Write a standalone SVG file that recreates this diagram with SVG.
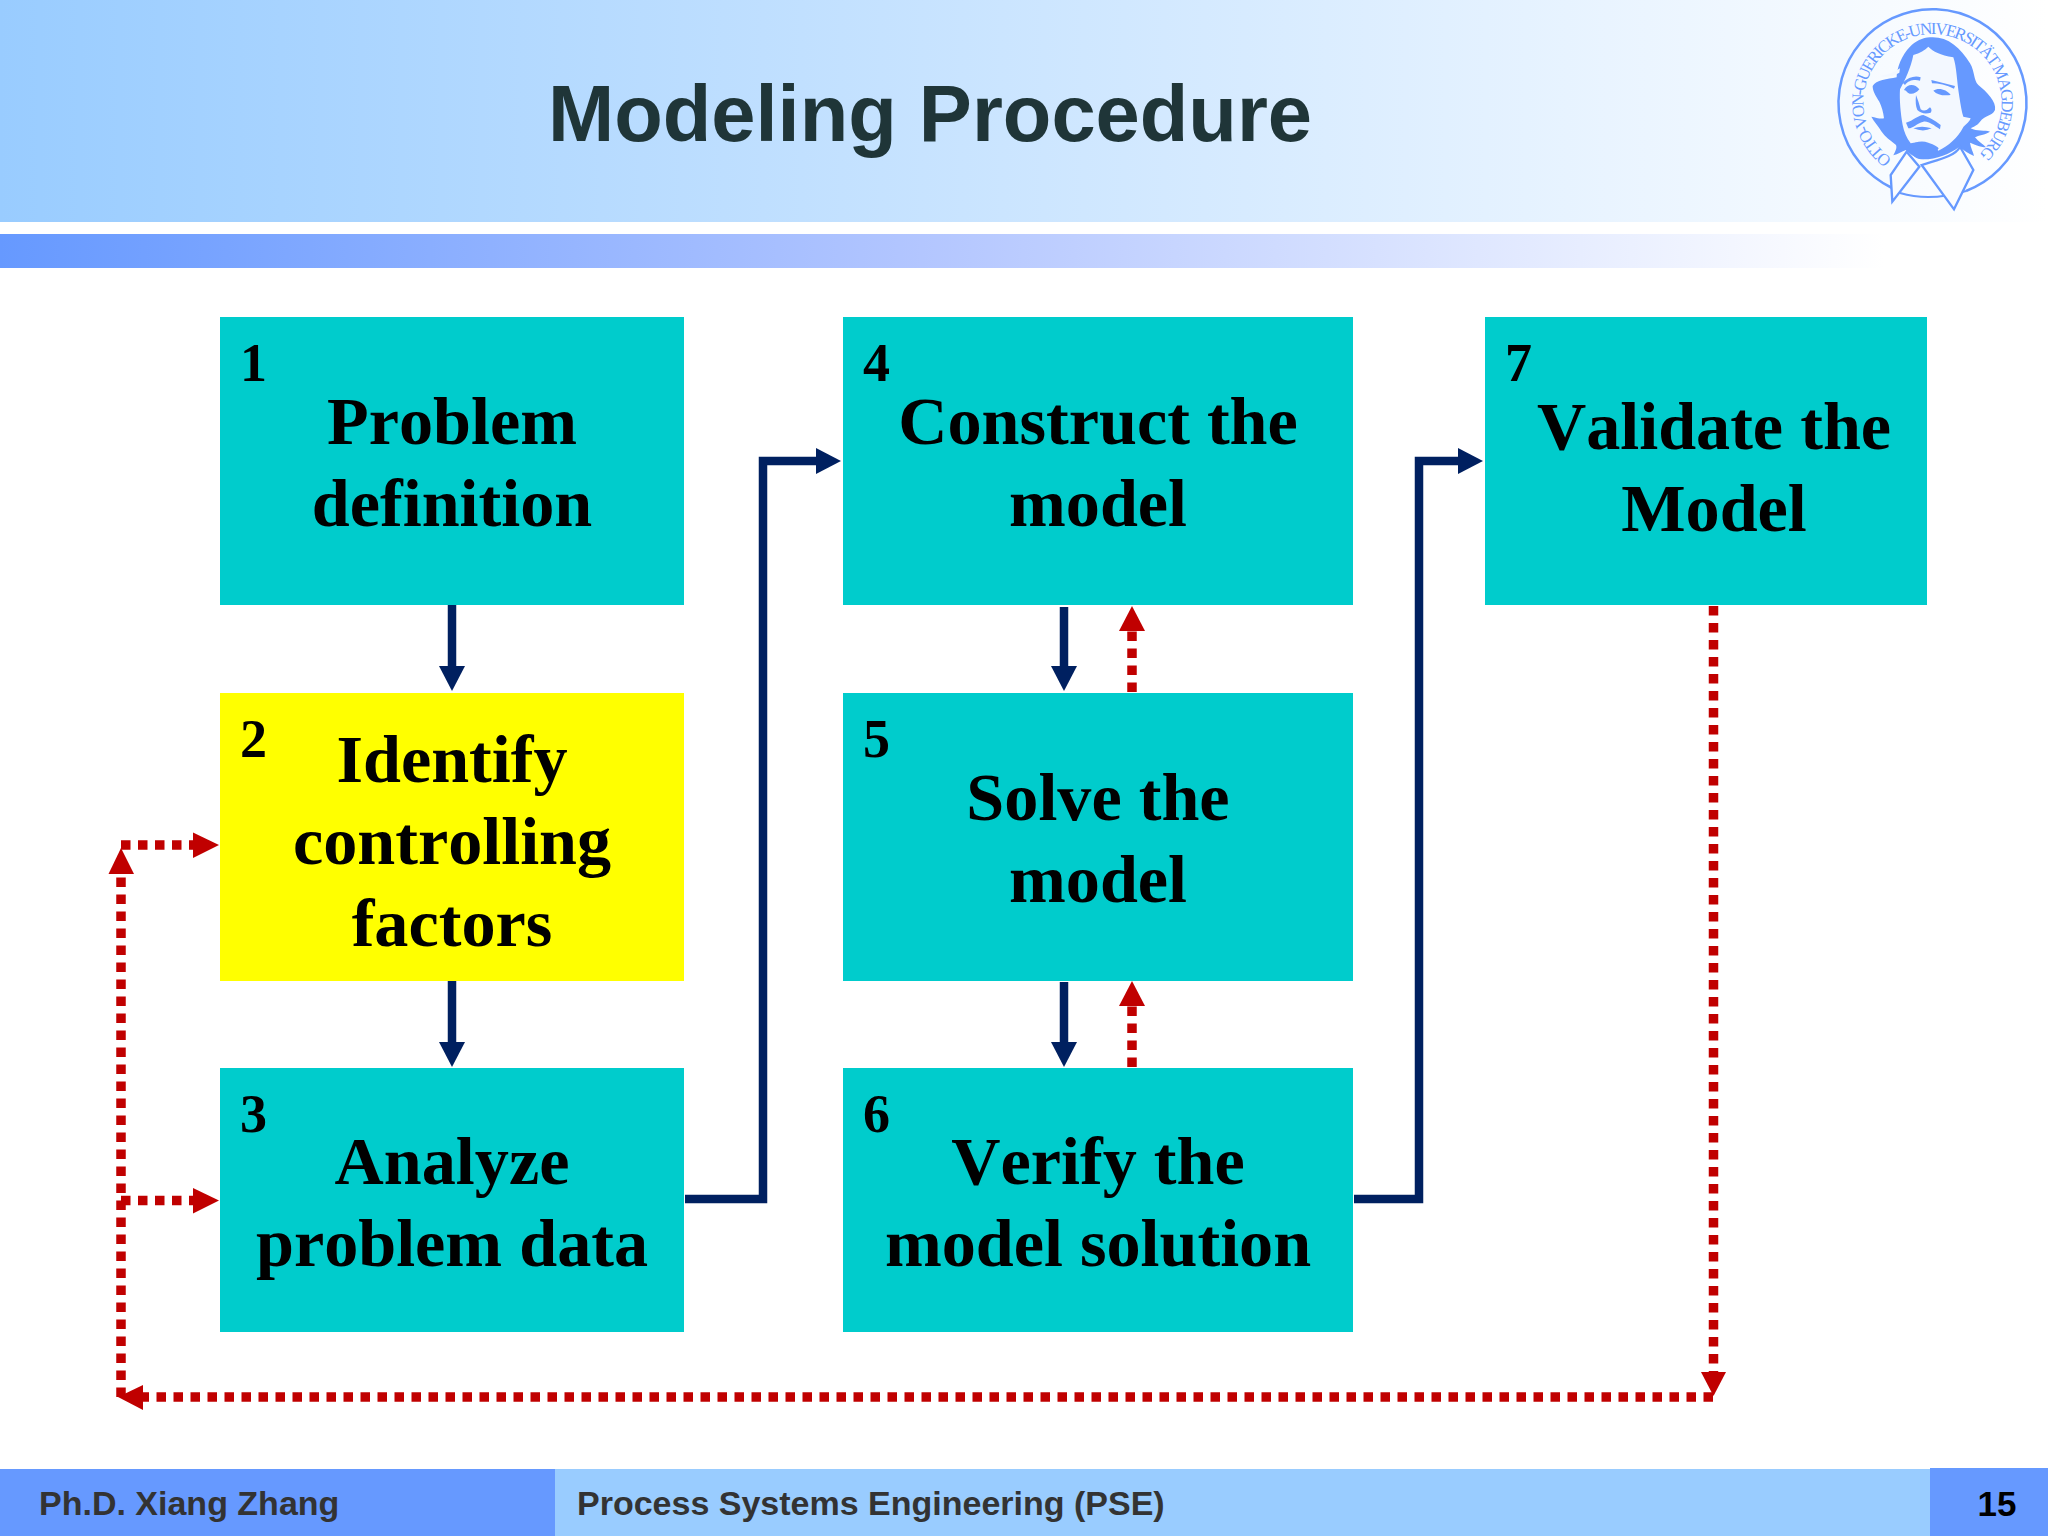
<svg xmlns="http://www.w3.org/2000/svg" xmlns:xlink="http://www.w3.org/1999/xlink" width="2048" height="1536" viewBox="0 0 2048 1536">
<style>
.box{fill:#00cccc}
.lbl{font:bold 68.200px "Liberation Serif",serif;fill:#000;text-anchor:middle;font-kerning:none}
.num{font:bold 54px "Liberation Serif",serif;fill:#000}
.foot{font:bold 34px "Liberation Sans",sans-serif;fill:#333}
.blue{fill:none;stroke:#002060;stroke-width:8.5}
.red{fill:none;stroke:#c00000;stroke-width:9.500;stroke-dasharray:9.500 7.500}
.ha{fill:#c00000}
.hb{fill:#002060}
.logo{fill:#6699ff}
.seal{font:17px "Liberation Serif",serif;fill:#6699ff;letter-spacing:-1.900px}
</style>
<defs>
<linearGradient id="g1"><stop offset="0" stop-color="#99ccff"/><stop offset="1" stop-color="#ffffff"/></linearGradient>
<linearGradient id="g2"><stop offset="0" stop-color="#6699ff"/><stop offset=".45" stop-color="#b3c6ff"/><stop offset=".92" stop-color="#ffffff"/></linearGradient>
<path id="arc" d="M1892 159A69 69 0 1 1 1973 159" fill="none"/>
</defs>
<rect width="2048" height="1536" fill="#fff"/>
<g id="header">
<rect width="2048" height="222" fill="url(#g1)"/>
<rect y="234" width="2048" height="34" fill="url(#g2)"/>
<text x="930" y="140.500" text-anchor="middle" style="font:bold 79.500px 'Liberation Sans',sans-serif;fill:#1f3538">Modeling Procedure</text>
</g>
<g id="logo">
<path d="M1892 188A94 94 0 1 1 1966 191" fill="none" stroke="#6699ff" stroke-width="2.500"/>
<path d="M1900 193Q1930 202 1966 191" fill="none" stroke="#6699ff" stroke-width="2"/>
<text class="seal"><textPath href="#arc" xlink:href="#arc">OTTO-VON-GUERICKE-UNIVERSITÄT MAGDEBURG</textPath></text>
<g transform="translate(1800 0) scale(.33333)">
<path class="logo" d="M390 112C440 108 480 140 510 190C525 215 520 240 535 255C560 275 590 305 585 330C575 350 555 345 540 365C530 378 520 380 512 385C530 395 555 390 570 395C555 405 535 405 525 412C535 425 550 432 558 442C540 442 520 432 510 428C512 445 520 455 522 468C505 460 490 450 478 440C450 462 410 478 370 478C345 475 330 462 318 450C305 455 295 462 280 466C285 455 292 445 288 435C270 420 255 410 245 395C235 378 222 365 214 350C228 352 240 358 252 355C250 335 245 320 238 305C225 285 218 272 218 258C228 240 262 238 290 232C290 205 305 165 330 140C345 125 368 112 390 112Z"/>
<path d="M240 228Q270 225 300 205L298 218Q270 235 240 228Z" fill="#f3f8ff"/>
<path d="M340 165C360 160 375 150 385 140C400 155 420 165 460 172C470 200 470 240 478 290C482 315 485 335 490 350L512 355C505 372 495 372 488 385C475 410 445 440 415 452C400 432 370 420 332 430C320 415 312 395 308 375C302 340 298 300 300 268C315 240 332 205 340 165Z" fill="#f3f8ff"/>
<path class="logo" d="M308 248C325 232 345 226 362 232L360 242C345 238 325 240 315 255ZM394 240L465 258L462 266C440 255 415 250 396 250ZM312 270C322 250 345 250 358 268C345 285 325 285 318 272ZM400 272C415 262 440 268 452 285C430 288 412 285 400 272ZM318 368C340 362 355 345 370 345C385 352 405 360 422 375L420 388C400 375 385 362 370 365C350 370 340 385 325 385ZM340 385Q365 375 395 385Q370 398 340 385ZM325 440C345 425 365 420 385 428C395 432 410 436 416 445C405 465 385 478 365 478C345 478 330 458 325 440ZM348 285Q345 315 352 330Q368 345 392 338Q398 330 390 322Q375 338 362 328Q356 305 348 285Z"/>
<path d="M320 455L272 525L277 605L358 500Z" fill="#fafcff" stroke="#6699ff" stroke-width="7"/>
<path d="M365 495L462 628L520 510L480 440C465 470 410 480 365 495Z" fill="#fafcff" stroke="#6699ff" stroke-width="7"/>
</g>
</g>
<g id="footer">
<rect y="1469" width="2048" height="67" fill="#99ccff"/>
<rect y="1469" width="555" height="67" fill="#6699ff"/>
<rect x="1930" y="1468" width="118" height="68" fill="#6699ff"/>
<text class="foot" x="39" y="1515">Ph.D. Xiang Zhang</text>
<text class="foot" x="577" y="1515">Process Systems Engineering (PSE)</text>
<text x="1997" y="1516" text-anchor="middle" style="font:bold 35px 'Liberation Sans',sans-serif;fill:#000">15</text>
</g>
<g id="node1"><rect class="box" x="220" y="317" width="464" height="288"/><text class="num" x="240" y="381">1</text><text class="lbl" x="452" y="444">Problem</text><text class="lbl" x="452" y="526">definition</text></g>
<g id="node2"><rect x="220" y="693" width="464" height="288" fill="#ffff00"/><text class="num" x="240" y="757">2</text><text class="lbl" x="452" y="782">Identify</text><text class="lbl" x="452" y="864">controlling</text><text class="lbl" x="452" y="946">factors</text></g>
<g id="node3"><rect class="box" x="220" y="1068" width="464" height="264"/><text class="num" x="240" y="1132">3</text><text class="lbl" x="452" y="1184">Analyze</text><text class="lbl" x="452" y="1266">problem data</text></g>
<g id="node4"><rect class="box" x="843" y="317" width="510" height="288"/><text class="num" x="863" y="381">4</text><text class="lbl" x="1098" y="444">Construct the</text><text class="lbl" x="1098" y="526">model</text></g>
<g id="node5"><rect class="box" x="843" y="693" width="510" height="288"/><text class="num" x="863" y="757">5</text><text class="lbl" x="1098" y="820">Solve the</text><text class="lbl" x="1098" y="902">model</text></g>
<g id="node6"><rect class="box" x="843" y="1068" width="510" height="264"/><text class="num" x="863" y="1132">6</text><text class="lbl" x="1098" y="1184">Verify the</text><text class="lbl" x="1098" y="1266">model solution</text></g>
<g id="node7"><rect class="box" x="1485" y="317" width="442" height="288"/><text class="num" x="1505" y="381">7</text><text class="lbl" x="1714" y="449">Validate the</text><text class="lbl" x="1714" y="531">Model</text></g>
<g id="connectors">
<path class="blue" d="M452 605V668"/><path class="hb" d="M439 666H465L452 691Z"/>
<path class="blue" d="M452 981V1044"/><path class="hb" d="M439 1042H465L452 1067Z"/>
<path class="blue" d="M685 1199H763V461H820"/><path class="hb" d="M816 448V474L841 461Z"/>
<path class="blue" d="M1354 1199H1419V461H1462"/><path class="hb" d="M1458 448V474L1483 461Z"/>
<path class="blue" d="M1064 607V668"/><path class="hb" d="M1051 666H1077L1064 691Z"/>
<path class="blue" d="M1064 982V1044"/><path class="hb" d="M1051 1042H1077L1064 1067Z"/>
<path class="red" d="M1132 692V630"/><path class="ha" d="M1119 631H1145L1132 606Z"/>
<path class="red" d="M1132 1067V1005"/><path class="ha" d="M1119 1006H1145L1132 981Z"/>
<path class="red" d="M1713.500 606V1374"/><path class="ha" d="M1701 1372H1726L1713.500 1396Z"/>
<path class="red" d="M1713 1397H140"/><path class="ha" d="M143 1385V1410L118 1397Z"/>
<path class="red" d="M121 1397V872"/><path class="ha" d="M108.500 874H134L121 848Z"/>
<path class="red" d="M121 845H195"/><path class="ha" d="M193 832.500V858L219 845Z"/>
<path class="red" d="M121 1200.500H195"/><path class="ha" d="M193 1188V1213.500L219 1200.500Z"/>
</g>
</svg>
